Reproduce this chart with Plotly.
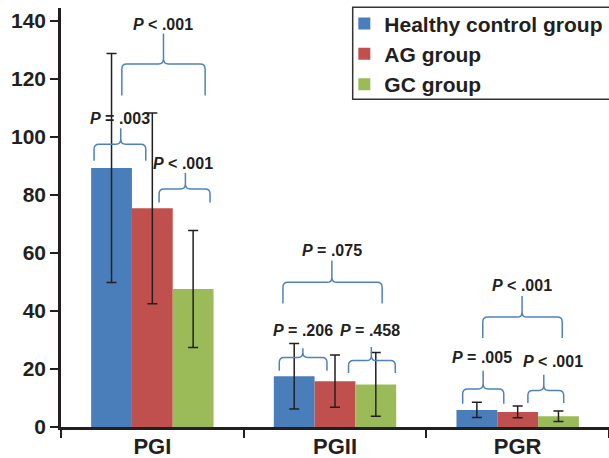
import plotly.graph_objects as go

categories = ["PGI", "PGII", "PGR"]
series_names = ["Healthy control group", "AG group", "GC group"]
healthy_mean = [89.3, 17.5, 5.9]
healthy_sd = [39.5, 11.3, 2.6]
ag_mean = [75.4, 15.8, 5.2]
ag_sd = [32.9, 9.0, 2.0]
gc_mean = [47.6, 14.7, 3.7]
gc_sd = [20.2, 11.0, 1.8]
colors = ["#4a7ebb", "#c0504d", "#9bbb59"]

y_ticks = [0, 20, 40, 60, 80, 100, 120, 140]

# Significance braces: (x_left, x_right, x_tip, y_bottom, y_mid, y_tip, label, label_x, label_y)
# x in category-index units, y in data units
braces = [
    (-0.319, -0.036, -0.173, 91.8, 97.5, 103.0, "<b><i>P</i> = .003</b>", -0.179, 106.4),
    (-0.167, 0.289, 0.061, 114.3, 125.2, 135.7, "<b><i>P</i> &lt; .001</b>", 0.056, 138.8),
    (0.037, 0.316, 0.181, 77.4, 82.1, 87.7, "<b><i>P</i> &lt; .001</b>", 0.170, 91.0),
    (0.715, 1.258, 0.983, 42.6, 49.9, 57.4, "<b><i>P</i> = .075</b>", 0.985, 60.8),
    (0.695, 0.956, 0.824, 19.4, 24.0, 27.2, "<b><i>P</i> = .206</b>", 0.825, 33.2),
    (1.074, 1.330, 1.199, 18.6, 22.9, 27.6, "<b><i>P</i> = .458</b>", 1.193, 33.3),
    (1.809, 2.244, 2.024, 30.7, 37.9, 45.2, "<b><i>P</i> &lt; .001</b>", 2.021, 48.7),
    (1.699, 1.924, 1.811, 8.0, 13.1, 19.4, "<b><i>P</i> = .005</b>", 1.805, 23.8),
    (2.056, 2.252, 2.143, 8.3, 12.6, 18.0, "<b><i>P</i> &lt; .001</b>", 2.193, 22.6),
]

TEXT = "#231f20"
FONT = "Liberation Sans, Arial, sans-serif"

fig = go.Figure()
for name, m, sd, c in zip(series_names, [healthy_mean, ag_mean, gc_mean],
                          [healthy_sd, ag_sd, gc_sd], colors):
    fig.add_trace(go.Bar(
        x=categories, y=m, name=name, marker=dict(color=c, line=dict(width=0)),
        error_y=dict(type="data", array=sd, visible=True, color=TEXT,
                     thickness=1.5, width=5),
    ))

rx, ry = 0.027, 1.7
shapes = []
annotations = []
for (x0, x1, xt, yb, ym, yt, label, lx, ly) in braces:
    path = (f"M {x0},{yb} L {x0},{ym - ry} Q {x0},{ym} {x0 + rx},{ym} "
            f"L {xt - rx},{ym} Q {xt},{ym} {xt},{ym + ry} L {xt},{yt} "
            f"M {xt},{ym + ry} Q {xt},{ym} {xt + rx},{ym} "
            f"L {x1 - rx},{ym} Q {x1},{ym} {x1},{ym - ry} L {x1},{yb}")
    shapes.append(dict(type="path", path=path, xref="x", yref="y",
                       line=dict(color="#4f81bd", width=1.5)))
    annotations.append(dict(x=lx, y=ly, xref="x", yref="y", text=label,
                            showarrow=False, xanchor="center", yanchor="middle",
                            font=dict(size=16, color=TEXT, family=FONT)))

# legend frame (extends past the right edge, as in the reference)
shapes.append(dict(type="rect", xref="paper", yref="paper",
                   x0=0.5323, x1=1.05, y0=0.7825, y1=1.0017,
                   line=dict(color="#333333", width=1.5), fillcolor="white",
                   layer="above"))

fig.update_layout(
    width=609, height=458,
    margin=dict(l=61, r=0, t=8, b=31, autoexpand=False),
    paper_bgcolor="white", plot_bgcolor="white",
    barmode="group", bargap=0.33, bargroupgap=0,
    font=dict(family=FONT, color=TEXT),
    shapes=shapes, annotations=annotations,
    legend=dict(x=0.517, y=1.011, xanchor="left", yanchor="top",
                xref="paper", yref="paper",
                borderwidth=0, bgcolor="rgba(0,0,0,0)",
                font=dict(size=21, color=TEXT, family=FONT, weight="bold"),
                itemwidth=30, tracegroupgap=0),
    xaxis=dict(type="category", showline=True, linecolor=TEXT, linewidth=2.5,
               ticks="outside", tickson="boundaries", ticklen=8, tickwidth=2,
               tickcolor=TEXT, showgrid=False, zeroline=False,
               ticklabelstandoff=-2,
               tickfont=dict(size=22, color=TEXT, family=FONT, weight="bold"),
               range=[-0.5, 2.5]),
    yaxis=dict(range=[0, 144.5], tickvals=y_ticks, showline=True, linecolor=TEXT,
               linewidth=2.5, ticks="outside", ticklen=8, tickwidth=2,
               tickcolor=TEXT, showgrid=False, zeroline=False,
               tickfont=dict(size=21, color=TEXT, family=FONT, weight="bold")),
)

fig.write_html("out.html")
